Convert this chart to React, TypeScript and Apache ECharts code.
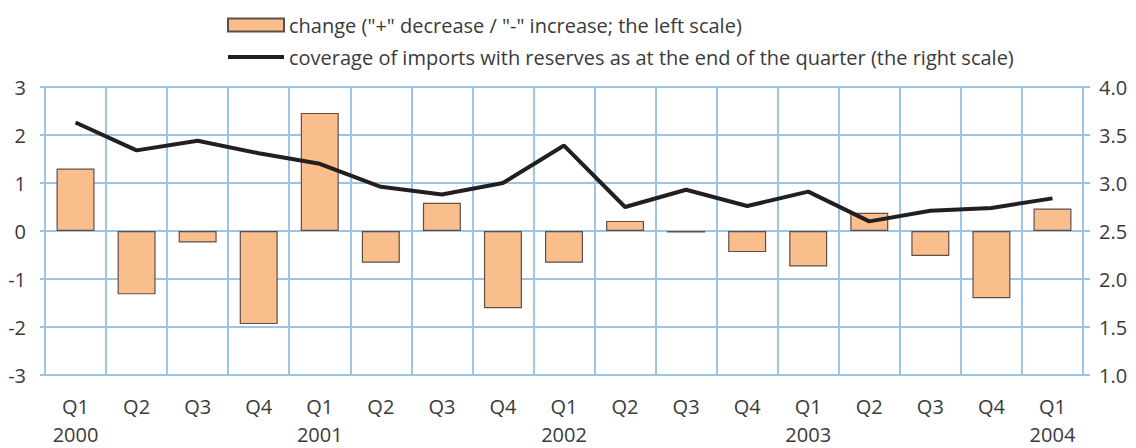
import React, { useEffect, useRef } from "react";
import * as echarts from "echarts";

const categories = [
  "Q1\n2000", "Q2", "Q3", "Q4",
  "Q1\n2001", "Q2", "Q3", "Q4",
  "Q1\n2002", "Q2", "Q3", "Q4",
  "Q1\n2003", "Q2", "Q3", "Q4",
  "Q1\n2004",
];
const changeValues = [1.3, -1.32, -0.24, -1.94, 2.46, -0.66, 0.59, -1.61, -0.66, 0.21, -0.03, -0.44, -0.74, 0.38, -0.52, -1.4, 0.47];
const coverageValues = [3.63, 3.34, 3.44, 3.31, 3.2, 2.96, 2.88, 3.0, 3.39, 2.75, 2.93, 2.76, 2.91, 2.6, 2.71, 2.74, 2.84];
const leftTicks = [-3, -2, -1, 0, 1, 2, 3];
const rightTicks = [1.0, 1.5, 2.0, 2.5, 3.0, 3.5, 4.0];

const barName = 'change ("+" decrease / "-" increase; the left scale)';
const lineName = "coverage of imports with reserves as at the end of the quarter (the right scale)";

const FONT = "Open Sans";
const GRID = "#9dc3e6";
const TXT = "#3a3a3a";

export default function App() {
  const ref = useRef<HTMLDivElement>(null);
  useEffect(() => {
    document.body.style.margin = "0";
    const chart = echarts.init(ref.current!, null, { renderer: "svg" });
    chart.setOption({
      animation: false,
      textStyle: { fontFamily: FONT },
      legend: {
        orient: "vertical",
        left: 222,
        top: 10,
        itemWidth: 56,
        itemHeight: 13,
        itemGap: 12,
        symbolKeepAspect: false,
        textStyle: { fontFamily: FONT, fontSize: 20, color: TXT },
        data: [
          { name: barName, icon: "rect" },
          {
            name: lineName,
            icon: "path://M0,0 M0,4.5 L56,4.5 L56,8.5 L0,8.5 Z M56,13",
            itemStyle: { color: "#231f20", borderWidth: 0 },
          },
        ],
      },
      grid: {
        left: 45,
        right: 53,
        top: 87,
        bottom: 73,
        containLabel: false,
        outerBoundsMode: "none",
      },
      xAxis: {
        type: "category",
        data: categories,
        boundaryGap: true,
        axisLine: { show: false },
        axisTick: { show: false },
        splitLine: { show: true, interval: 0, lineStyle: { color: GRID, width: 2 } },
        axisLabel: {
          interval: 0,
          margin: 17,
          lineHeight: 28,
          fontSize: 20,
          color: TXT,
          fontFamily: FONT,
          verticalAlign: "top",
        },
      },
      yAxis: [
        {
          type: "value",
          min: -3,
          max: 3,
          interval: 1,
          position: "left",
          axisLine: { show: true, lineStyle: { color: GRID, width: 2 } },
          axisTick: { show: true, length: 5, lineStyle: { color: GRID, width: 2 } },
          splitLine: { show: true, lineStyle: { color: GRID, width: 2 } },
          axisLabel: {
            margin: 19,
            fontSize: 20,
            color: TXT,
            fontFamily: FONT,
            formatter: (v: number) => (leftTicks.includes(v) ? String(v) : ""),
          },
        },
        {
          type: "value",
          min: 1,
          max: 4,
          interval: 0.5,
          position: "right",
          axisLine: { show: true, lineStyle: { color: GRID, width: 2 } },
          axisTick: { show: true, length: 7, lineStyle: { color: GRID, width: 2 } },
          splitLine: { show: false },
          axisLabel: {
            margin: 16,
            fontSize: 20,
            color: TXT,
            fontFamily: FONT,
            formatter: (v: number) => {
              const t = rightTicks.find((r) => Math.abs(r - v) < 1e-9);
              return t !== undefined ? t.toFixed(1) : "";
            },
          },
        },
      ],
      series: [
        {
          name: barName,
          type: "bar",
          yAxisIndex: 0,
          data: changeValues,
          barWidth: 38,
          itemStyle: { color: "#f9be8c", borderColor: "#5e5049", borderWidth: 1.2 },
        },
        {
          name: lineName,
          type: "line",
          yAxisIndex: 1,
          data: coverageValues,
          symbol: "none",
          lineStyle: { color: "#231f20", width: 4 },
          itemStyle: { color: "#231f20" },
          z: 5,
        },
      ],
    });
    return () => chart.dispose();
  }, []);
  return <div ref={ref} style={{ width: 1136, height: 448 }} />;
}
